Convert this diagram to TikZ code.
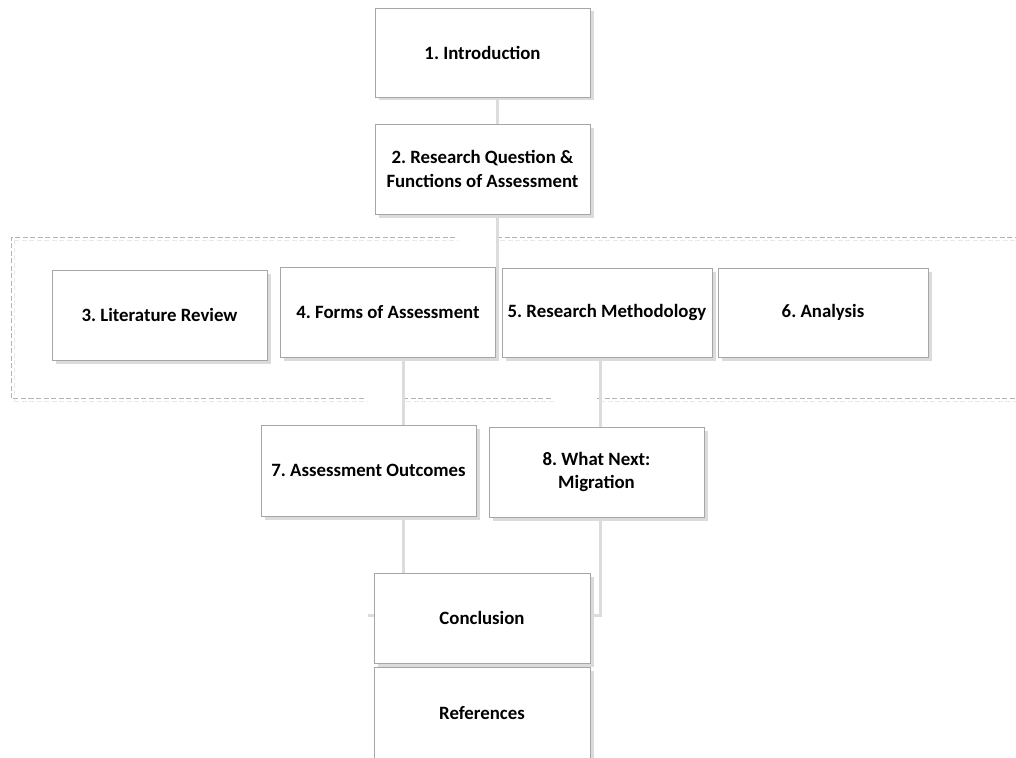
\documentclass[tikz,border=0pt]{standalone}
\usepackage{fontspec}
\setmainfont{Carlito}
\frenchspacing
\usetikzlibrary{shadows}
\definecolor{boxline}{HTML}{A6A6A6}
\definecolor{conn}{HTML}{DCDCDC}
\definecolor{dashc}{HTML}{B4B4B4}
\definecolor{dashs}{HTML}{E8E8E8}
\tikzset{
  box/.style={draw=boxline, line width=0.9pt, fill=white, rectangle, inner sep=2pt,
    align=center, font=\bfseries\fontsize{18.8}{23.5}\selectfont,
    drop shadow={shadow xshift=3.5pt, shadow yshift=-3.5pt, fill=black!14, opacity=1}},
  conn/.style={draw=conn, line width=3pt},
  grp/.style={draw=dashc, line width=1pt, dash pattern=on 5pt off 2.5pt},
  grpshadow/.style={draw=dashs, line width=1pt, dash pattern=on 5pt off 2.5pt}
}
\begin{document}
\begin{tikzpicture}[x=1pt, y=-1pt]
\useasboundingbox (0,0) rectangle (1016,757);
% group shadow
\draw[grpshadow] (14,240) -- (458,240) (500,240) -- (1016,240);
\draw[grpshadow] (14,240) -- (14,401);
\draw[grpshadow] (14,401) -- (368,401) (406,401) -- (555,401) (600,401) -- (1016,401);
% group dashed frame
\draw[grp] (455,237) -- (11,237) -- (11,398) -- (365,398);
\draw[grp] (497,237) -- (1016,237);
\draw[grp] (403,398) -- (552,398) (597,398) -- (1016,398);

% node positions
\coordinate (c1) at (482.5,52.5);
\coordinate (c2) at (482.5,169);
\coordinate (c3) at (159.5,315);
\coordinate (c4) at (388,312);
\coordinate (c5) at (607,312.5);
\coordinate (c6) at (823,312.5);
\coordinate (c7) at (368.5,470.5);
\coordinate (c8) at (596.5,472);
\coordinate (c9) at (482,618);
\coordinate (c10) at (482,713);

% connectors (behind boxes)
\coordinate (j2) at (497,335);
\coordinate (j7) at (368,615);
\draw[conn] (497,97) -- (497,124);
\draw[conn] (497,214) -- (j2);
\draw[conn] (403,357) -- (403,425);
\draw[conn] (403,516) -- (403,615) -- (j7);
\draw[conn] (600,357) -- (600,427);
\draw[conn] (600,517) -- (600,615) -- (590,615);

% boxes
\node[box, minimum width=215pt, minimum height=89pt] (b1) at (c1) {1. Introduction};
\node[box, minimum width=215pt, minimum height=90pt] (b2) at (c2) {2. Research Question \&\\Functions of Assessment};
\node[box, minimum width=215pt, minimum height=90pt] (b3) at (c3) {3. Literature Review};
\node[box, minimum width=215pt, minimum height=90pt] (b4) at (c4) {4. Forms of Assessment};
\node[box, minimum width=210pt, minimum height=89pt] (b5) at (c5) {5. Research Methodology};
\node[box, minimum width=210pt, minimum height=89pt] (b6) at (c6) {6. Analysis};
\node[box, minimum width=215pt, minimum height=91pt] (b7) at (c7) {7. Assessment Outcomes};
\node[box, minimum width=215pt, minimum height=90pt] (b8) at (c8) {8. What Next:\\Migration};
\node[box, minimum width=216pt, minimum height=90pt] (b9) at (c9) {Conclusion};
\node[box, minimum width=216pt, minimum height=92pt] (b10) at (c10) {References};
\end{tikzpicture}
\end{document}
